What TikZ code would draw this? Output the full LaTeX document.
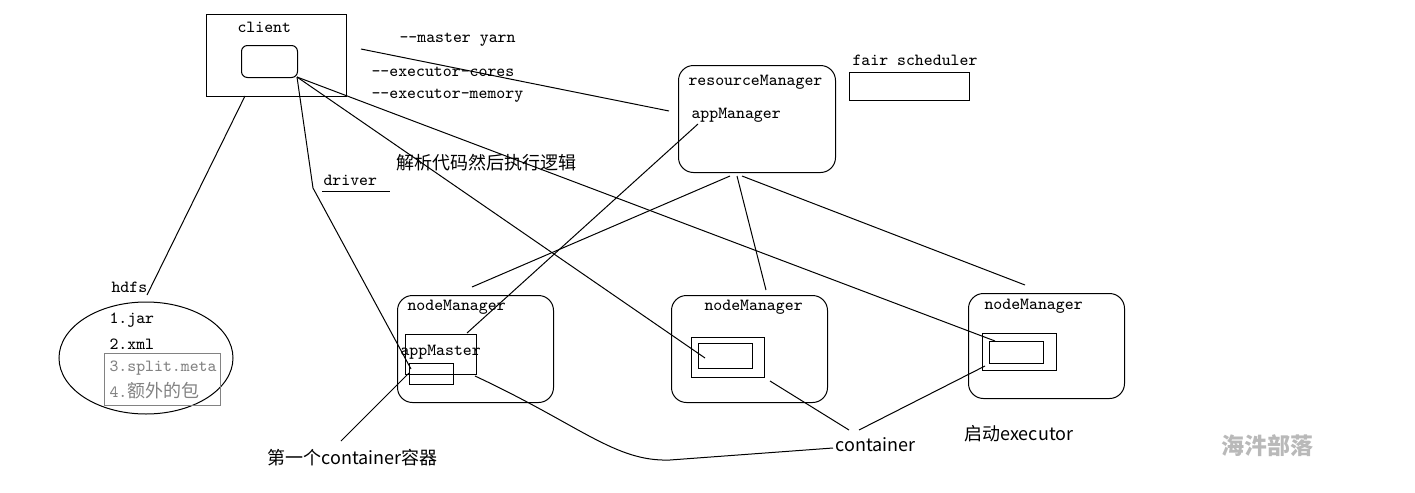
\documentclass[tikz,border=0pt]{standalone}
\usepackage{fontspec}
\newfontfamily\cjk{Noto Sans CJK SC}
\usetikzlibrary{shapes.geometric}
\definecolor{txtgray}{RGB}{130,130,130}
\definecolor{wmgray}{RGB}{185,185,185}
\begin{document}
\begin{tikzpicture}[x=0.5pt,y=-0.5pt,line width=0.5pt,
  box/.style={draw,inner sep=0,anchor=north west},
  rbox/.style={box,rounded corners=7.5pt},
  lbl/.style={inner sep=0,anchor=west,font=\fontsize{8.5}{10}\selectfont\ttfamily},
  cn/.style={inner sep=0,anchor=west,font=\fontsize{9}{11}\selectfont\cjk},
  conn/.style={draw,line width=0.5pt}]
\useasboundingbox (0,0) rectangle (1415,493);
% boxes
\node[box,minimum width=70pt,minimum height=41pt] (client) at (206,14) {};
\node[box,rounded corners=3pt,minimum width=28pt,minimum height=16pt] (inner) at (241,45) {};
\node[rbox,minimum width=78.5pt,minimum height=53.5pt] (rm) at (678,65) {};
\node[box,minimum width=60pt,minimum height=14pt] (fair) at (849,72) {};
\node[rbox,minimum width=78pt,minimum height=53.5pt] (nm1) at (397,295) {};
\node[box,minimum width=35.5pt,minimum height=20pt] (am) at (405,334) {};
\node[box,minimum width=22pt,minimum height=10.5pt] (am2) at (409,363) {};
\node[rbox,minimum width=78pt,minimum height=53.5pt] (nm2) at (671,295) {};
\node[box,minimum width=36.5pt,minimum height=20pt] (c2o) at (691,337) {};
\node[box,minimum width=27pt,minimum height=12.5pt] (c2i) at (698,343) {};
\node[rbox,minimum width=78pt,minimum height=52.5pt] (nm3) at (968,293) {};
\node[box,minimum width=37pt,minimum height=18.5pt] (c3o) at (982,333) {};
\node[box,minimum width=27pt,minimum height=11pt] (c3i) at (989,341) {};
\node[draw,ellipse,inner sep=0,minimum width=87pt,minimum height=56pt] (hdfsE) at (146,358) {};
\node[box,draw=txtgray,minimum width=58pt,minimum height=26pt] (gbox) at (104,353) {};
% texts
\node[lbl] (tclient) at (237,27) {client};
\node[lbl] (tmy) at (399,40) {--master yarn};
\node[lbl] (tec) at (371,72) {--executor-cores};
\node[lbl] (tem) at (371,96) {--executor-memory};
\node[lbl] (tfair) at (852,60) {fair scheduler};
\node[lbl] (trm) at (688,82) {resourceManager};
\node[lbl] (tapm) at (691,115) {appManager};
\node[lbl] (tdrv) at (323,180) {driver};
\node[cn] (tparse) at (396,163) {解析代码然后执行逻辑};
\node[lbl] (thdfs) at (111,287) {hdfs};
\node[lbl] (t1) at (109,320) {1.jar};
\node[lbl] (t2) at (109,344) {2.xml};
\node[lbl,text=txtgray] (t3) at (109,368) {3.split.meta};
\node[lbl,text=txtgray] (t4) at (109,391) {4.{\fontsize{9}{11}\selectfont\cjk 额外的包}};
\node[lbl] (tnm1) at (407,307) {nodeManager};
\node[lbl] (tam) at (400,352) {appMaster};
\node[lbl] (tnm2) at (704,307) {nodeManager};
\node[lbl] (tnm3) at (984,306) {nodeManager};
\node[cn] (tfirst) at (267,458) {第一个container容器};
\node[cn] (tcont) at (835,445) {container};
\node[cn] (tstart) at (964,434) {启动executor};
\node[inner sep=0,anchor=west,font=\fontsize{11.5}{13}\selectfont\cjk\bfseries,text=wmgray] (wm) at (1221,446) {海汼部落};
% coordinates
\coordinate (cb) at (245,96);
\coordinate (hd) at (147,295);
\coordinate (ms) at (361,49);
\coordinate (rml) at (669,111);
\coordinate (apmx) at (698,124);
\coordinate (amx) at (467,333);
\coordinate (ic) at (297,77);
\coordinate (dk) at (313,188);
\coordinate (am2x) at (411,369);
\coordinate (c2x) at (705,358);
\coordinate (c3x) at (995,341);
\coordinate (rb1) at (730,176);
\coordinate (rb2) at (737,176);
\coordinate (rb3) at (742,176);
\coordinate (n1t) at (472,287);
\coordinate (n2t) at (766,290);
\coordinate (n3t) at (1025,285);
\coordinate (ul1) at (322,191);
\coordinate (ul2) at (390,191);
\coordinate (cv1) at (475,376);
\coordinate (cv2) at (670,460);
\coordinate (cv3) at (833,448);
\coordinate (f1) at (341,441);
\coordinate (f2) at (409,373);
\coordinate (m1) at (770,381);
\coordinate (m2) at (849,430);
\coordinate (m3) at (859,430);
\coordinate (r1) at (985,366);
% connectors
\draw[conn] (cb) -- (hd);
\draw[conn] (ms) -- (rml);
\draw[conn] (apmx) -- (amx);
\draw[conn] (ic) -- (dk) -- (am2x);
\draw[conn] (ic) -- (c2x);
\draw[conn] (ic) -- (c3x);
\draw[conn] (rb1) -- (n1t);
\draw[conn] (rb2) -- (n2t);
\draw[conn] (rb3) -- (n3t);
\draw[conn] (ul1) -- (ul2);
\draw[conn] (cv1) .. controls (580,425) and (615,462) .. (cv2) -- (cv3);
\draw[conn] (f1) -- (f2);
\draw[conn] (m1) -- (m2);
\draw[conn] (m3) -- (r1);
\end{tikzpicture}
\end{document}
